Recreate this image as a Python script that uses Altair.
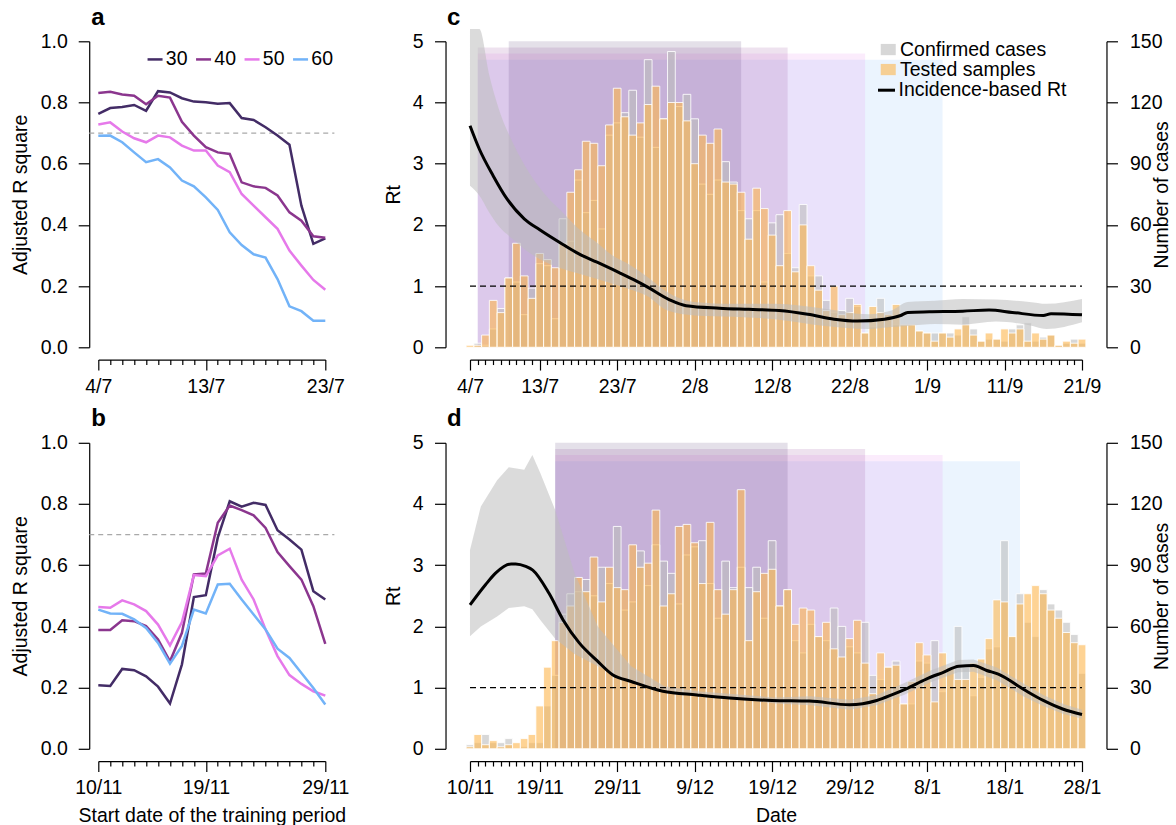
import altair as alt
import pandas as pd

FONT = "Liberation Sans"
FS = 19.5

# ---------------- panels a / b : adjusted R square ----------------
windows = ["30", "40", "50", "60"]
window_colors = ["#432C66", "#8B368E", "#E679EA", "#72B3F8"]

a_r2_30 = [0.763, 0.782, 0.785, 0.792, 0.773, 0.837, 0.833, 0.814, 0.803, 0.801,
           0.796, 0.798, 0.749, 0.743, 0.719, 0.692, 0.662, 0.463, 0.338, 0.356]
a_r2_40 = [0.831, 0.835, 0.826, 0.822, 0.794, 0.822, 0.816, 0.737, 0.692, 0.654,
           0.637, 0.632, 0.539, 0.526, 0.521, 0.496, 0.441, 0.414, 0.363, 0.358]
a_r2_50 = [0.728, 0.735, 0.705, 0.683, 0.670, 0.692, 0.686, 0.659, 0.643, 0.643,
           0.594, 0.572, 0.501, 0.463, 0.425, 0.387, 0.316, 0.267, 0.220, 0.188]
a_r2_60 = [0.691, 0.692, 0.670, 0.637, 0.605, 0.615, 0.588, 0.545, 0.526, 0.490,
           0.449, 0.376, 0.334, 0.304, 0.293, 0.223, 0.134, 0.118, 0.087, 0.087]

b_r2_30 = [0.208, 0.205, 0.261, 0.257, 0.237, 0.203, 0.148, 0.276, 0.496, 0.502,
           0.690, 0.809, 0.791, 0.804, 0.797, 0.714, 0.684, 0.651, 0.515, 0.488]
b_r2_40 = [0.388, 0.388, 0.420, 0.417, 0.401, 0.357, 0.286, 0.379, 0.570, 0.573,
           0.739, 0.795, 0.780, 0.763, 0.722, 0.643, 0.597, 0.553, 0.466, 0.343]
b_r2_50 = [0.463, 0.461, 0.485, 0.472, 0.450, 0.406, 0.338, 0.414, 0.568, 0.564,
           0.632, 0.654, 0.553, 0.488, 0.390, 0.303, 0.241, 0.212, 0.188, 0.174]
b_r2_60 = [0.455, 0.442, 0.441, 0.423, 0.395, 0.346, 0.278, 0.336, 0.455, 0.442,
           0.537, 0.539, 0.488, 0.439, 0.390, 0.327, 0.297, 0.248, 0.199, 0.145]

r2_threshold = 0.7
r2_ticks = [0.0, 0.2, 0.4, 0.6, 0.8, 1.0]
ab_tick_days = [0, 9, 19]
a_tick_labels = ["4/7", "13/7", "23/7"]
b_tick_labels = ["10/11", "19/11", "29/11"]

# ---------------- panels c / d : cases and Rt ----------------
cd_tick_days = [0, 9, 19, 29, 39, 49, 59, 69, 79]
c_tick_labels = ["4/7", "13/7", "23/7", "2/8", "12/8", "22/8", "1/9", "11/9", "21/9"]
d_tick_labels = ["10/11", "19/11", "29/11", "9/12", "19/12", "29/12", "8/1", "18/1", "28/1"]

series_names = ["Confirmed cases", "Tested samples"]
series_colors = ["#BDBDBD", "#FDB64C"]
rt_label = "Incidence-based Rt"

c_confirmed = [0, 2, 1, 9, 19, 34, 32, 16, 29, 41,
               40, 14, 63, 52, 82, 66, 72, 58, 104, 110,
               115, 126, 103, 141, 98, 112, 145, 118, 124, 112,
               80, 75, 82, 91, 81, 67, 63, 67, 32, 61,
               65, 46, 39, 70, 35, 35, 23, 17, 18, 24,
               20, 7, 10, 24, 16, 11, 11, 11, 8, 7,
               7, 7, 7, 6, 15, 9, 3, 4, 4, 3,
               9, 11, 12, 3, 5, 6, 1, 2, 4, 2]
c_tested = [1, 1, 6, 23, 17, 34, 51, 35, 24, 46,
            43, 39, 51, 76, 87, 101, 100, 89, 109, 127,
            113, 104, 110, 119, 128, 112, 120, 120, 111, 90,
            104, 100, 107, 81, 80, 76, 53, 78, 68, 55,
            40, 67, 37, 60, 40, 28, 18, 30, 16, 17,
            21, 7, 20, 17, 16, 21, 11, 11, 8, 7,
            3, 7, 5, 9, 11, 6, 3, 7, 4, 9,
            7, 9, 3, 7, 4, 6, 1, 3, 2, 4]

d_confirmed = [2, 3, 7, 3, 3, 5, 0, 1, 3, 3,
               21, 36, 66, 76, 77, 83, 75, 89, 81, 109,
               68, 72, 97, 80, 100, 92, 86, 71, 95, 99,
               102, 81, 64, 92, 79, 89, 79, 89, 64, 102,
               70, 78, 53, 47, 61, 55, 53, 69, 60, 50,
               47, 62, 36, 34, 40, 43, 22, 22, 43, 42,
               53, 28, 40, 60, 40, 26, 35, 49, 50, 102,
               55, 76, 62, 55, 78, 71, 68, 62, 56, 37]
d_tested = [1, 7, 2, 4, 1, 2, 3, 5, 7, 21,
            40, 53, 62, 70, 84, 77, 94, 72, 89, 79,
            78, 100, 89, 91, 117, 70, 76, 109, 110, 101,
            81, 111, 78, 66, 78, 127, 53, 77, 86, 88,
            70, 78, 61, 69, 68, 55, 62, 49, 45, 54,
            63, 42, 27, 47, 40, 41, 22, 33, 52, 46,
            23, 47, 40, 34, 34, 42, 44, 54, 73, 72,
            55, 71, 76, 80, 76, 68, 64, 57, 52, 51]

c_rt_day = [0, 1.2, 3, 4.8, 7, 9, 12, 14, 16.4, 19.25, 21.5, 22.7, 25.7, 27.9, 32.2,
            36, 39.9, 43.6, 47, 50, 53.5, 55.6, 56.5, 59.3, 63.6, 67, 70, 74, 75, 79]
c_rt = [3.62, 3.24, 2.8, 2.42, 2.1, 1.92, 1.68, 1.53, 1.39, 1.22, 1.08, 1.0, 0.78, 0.68, 0.64,
        0.62, 0.6, 0.54, 0.46, 0.43, 0.46, 0.52, 0.57, 0.58, 0.59, 0.61, 0.57, 0.52, 0.55, 0.53]
c_rib_day = [0, 1.2, 2.5, 3.7, 5.5, 7.6, 9.8, 12, 14.1, 16.3, 18.4, 20.6, 22.7, 25.5,
             29, 34, 39.3, 45.8, 51.4, 54.4, 56.5, 60, 63.6, 67.9, 72.2, 74.4, 79]
c_rib_up = [5.2, 5.2, 4.44, 3.9, 3.35, 2.86, 2.48, 2.2, 1.93, 1.72, 1.5, 1.35, 1.17, 0.9,
            0.74, 0.71, 0.71, 0.63, 0.54, 0.6, 0.74, 0.76, 0.79, 0.78, 0.74, 0.71, 0.79]
c_rib_lo = [2.64, 2.48, 2.2, 1.98, 1.77, 1.55, 1.39, 1.28, 1.2, 1.12, 1.04, 0.95, 0.85, 0.6,
            0.52, 0.5, 0.46, 0.35, 0.3, 0.33, 0.35, 0.38, 0.37, 0.42, 0.36, 0.3, 0.41]

d_rt_day = [0, 2, 3.3, 5.3, 5.9, 7.2, 8.1, 10.2, 12, 14.1, 16.4, 18.4, 20.8, 24.9, 29.3, 33.5,
            39, 43.8, 49, 52.5, 54.6, 56.3, 58.9, 61.1, 63.1, 65, 66.7, 68.2, 71.6, 74, 76.5, 79]
d_rt = [2.35, 2.68, 2.87, 3.02, 3.02, 2.98, 2.92, 2.54, 2.11, 1.73, 1.44, 1.21, 1.1, 0.94, 0.88, 0.83,
        0.79, 0.78, 0.72, 0.79, 0.89, 0.98, 1.14, 1.25, 1.35, 1.36, 1.28, 1.22, 0.96, 0.79, 0.65, 0.56]
d_rib_day = [0, 1.4, 3.5, 5, 7, 8.05, 9.1, 11, 13.5, 16.5, 20.8, 25.1, 29.4, 39.3, 44, 49,
             52.5, 56, 59.3, 63, 65, 68, 71.4, 74, 76.6, 79]
d_rib_up = [3.25, 3.96, 4.39, 4.6, 4.56, 4.8, 4.5, 3.9, 2.87, 2.0, 1.35, 1.02, 0.94, 0.84, 0.86, 0.8,
            0.88, 1.07, 1.27, 1.45, 1.46, 1.33, 1.07, 0.88, 0.73, 0.64]
d_rib_lo = [1.84, 2.0, 2.16, 2.3, 2.33, 2.28, 2.1, 1.8, 1.55, 1.35, 1.08, 0.96, 0.88, 0.74, 0.71, 0.64,
            0.71, 0.88, 1.08, 1.25, 1.26, 1.12, 0.86, 0.7, 0.57, 0.49]

train_len = [30, 40, 50, 60]
train_top = [5.0, 4.9, 4.8, 4.7]
c_train_start = [5, 1, 1, 1]
d_train_start = [11, 11, 11, 11]
rt_threshold = 1
rt_ticks = [0, 1, 2, 3, 4, 5]
case_ticks = [0, 30, 60, 90, 120, 150]

# ---------------- helpers ----------------
SMALL_W, BIG_W, PH = 227, 612, 306
COL_GAP, ROW_GAP = 144.7, 95.5


def label_expr(days, labels):
    expr = "''"
    for d, l in reversed(list(zip(days, labels))):
        expr = f"datum.value == {d} ? '{l}' : ({expr})"
    return expr


def date_axis(n, tick_days, tick_labels, title, offset):
    test = f"indexof({list(tick_days)}, datum.value) >= 0"
    return alt.Axis(
        values=list(range(n + 1)),
        labelExpr=label_expr(tick_days, tick_labels),
        tickSize={"condition": {"test": test, "value": 10.5}, "value": 5},
        offset=offset, labelPadding=7, titlePadding=9,
        labelFlush=False, labelOverlap=False, title=title,
    )


def letter_title(letter, dx, offset):
    return alt.TitleParams(letter, anchor="start", frame="group", dx=dx, offset=offset,
                           fontSize=24, fontWeight="bold", font=FONT, baseline="alphabetic",
                           color="black")


def r2_panel(series, tick_labels, letter, x_title, show_legend):
    rows = []
    for w, vals in zip(windows, series):
        for i, v in enumerate(vals):
            rows.append({"day": i, "r2": v, "window": w})
    df = pd.DataFrame(rows)
    n = len(series[0]) - 1
    pad = 0.04 * n
    xs = alt.Scale(domain=[0, n], nice=False, zero=False)
    ys = alt.Scale(domain=[0, 1], nice=False, zero=False)
    x_axis = date_axis(n, ab_tick_days, tick_labels, x_title, 0.04 * PH)
    y_axis = alt.Axis(values=r2_ticks, format=".1f", title="Adjusted R square",
                      offset=0.04 * SMALL_W, tickSize=11, labelPadding=11, titlePadding=10)
    ref = pd.DataFrame({"x0": [-pad], "x1": [n + pad], "y": [r2_threshold]})
    dash = alt.Chart(ref).mark_rule(color="#A9A9A9", strokeDash=[5, 4], strokeWidth=1.3).encode(
        x=alt.X("x0:Q", scale=xs, axis=x_axis), x2="x1:Q",
        y=alt.Y("y:Q", scale=ys, axis=y_axis))
    if show_legend:
        leg = alt.Legend(orient="none", legendX=47, legendY=8, direction="horizontal", title=None,
                         symbolType="stroke", symbolSize=225, symbolStrokeWidth=2.5,
                         labelOffset=1, columnPadding=2.5, labelFontSize=FS)
    else:
        leg = None
    lines = alt.Chart(df).mark_line(strokeWidth=2.5).encode(
        x=alt.X("day:Q", scale=xs, axis=x_axis),
        y=alt.Y("r2:Q", scale=ys, axis=y_axis),
        color=alt.Color("window:N", scale=alt.Scale(domain=windows, range=window_colors), legend=leg),
        order=alt.Order("day:Q"),
    )
    return alt.layer(dash, lines).properties(
        width=SMALL_W, height=PH, title=letter_title(letter, -7, -17.4))


def rt_panel(conf, tested, starts, rt_x, rt_y, rib_x, rib_up, rib_lo, rib_interp,
             tick_labels, letter, letter_offset, x_title, show_legend):
    n = len(conf) - 1
    xs = alt.Scale(domain=[0, n], nice=False, zero=False)
    ys = alt.Scale(domain=[0, 5], nice=False, zero=False)
    cs = alt.Scale(domain=[0, 150], nice=False, zero=False)
    x_axis = date_axis(n, cd_tick_days, tick_labels, x_title, 0.04 * PH)
    left_axis = alt.Axis(orient="left", values=rt_ticks, format="d", title="Rt",
                         offset=0.04 * BIG_W, tickSize=11, labelPadding=11.5, titlePadding=9)
    right_axis = alt.Axis(orient="right", values=case_ticks, format="d", title="Number of cases",
                          offset=0.04 * BIG_W, tickSize=11, labelPadding=12,
                          titleAngle=270, titleBaseline="bottom", titlePadding=9)

    rect_df = pd.DataFrame({
        "window": windows, "start": starts,
        "end": [s + l for s, l in zip(starts, train_len)], "top": train_top,
    }).iloc[::-1]
    rects = alt.Chart(rect_df).mark_rect(opacity=0.145).encode(
        x=alt.X("start:Q", scale=xs, axis=x_axis), x2="end:Q",
        y=alt.Y("top:Q", scale=ys, axis=left_axis), y2=alt.datum(0),
        color=alt.Color("window:N", scale=alt.Scale(domain=windows, range=window_colors), legend=None),
    )

    bar_df = pd.DataFrame({
        "day": list(range(n + 1)) * 2,
        "cases": conf + tested,
        "series": [series_names[0]] * (n + 1) + [series_names[1]] * (n + 1),
    })
    # legends of concatenated views are placed from the first panel's plot origin
    lx = SMALL_W + COL_GAP + 408.5
    if show_legend:
        fill_leg = alt.Legend(orient="none", legendX=lx, legendY=-1.5, title=None,
                              symbolType="M-1,-0.75H1V0.75H-1Z", symbolSize=225,
                              symbolOpacity=0.6, symbolStrokeWidth=0, labelOffset=2,
                              rowPadding=-3, labelLimit=400, labelFontSize=FS)
        stroke_leg = alt.Legend(orient="none", legendX=lx - 2, legendY=38.9, title=None,
                                symbolType="stroke", symbolSize=289, symbolStrokeWidth=3,
                                labelOffset=2, labelLimit=400, labelFontSize=FS)
    else:
        fill_leg = None
        stroke_leg = None
    bars = alt.Chart(bar_df).transform_calculate(
        x0="datum.day - 0.5", x1="datum.day + 0.5"
    ).mark_bar(fillOpacity=0.6, stroke="white", strokeWidth=1, strokeOpacity=0.85).encode(
        x=alt.X("x0:Q", scale=xs, axis=x_axis), x2="x1:Q",
        y=alt.Y("cases:Q", scale=cs, axis=right_axis, stack=None), y2=alt.datum(0),
        fill=alt.Fill("series:N", scale=alt.Scale(domain=series_names, range=series_colors),
                      legend=fill_leg),
    )

    rib_df = pd.DataFrame({"day": rib_x, "up": rib_up, "lo": rib_lo})
    ribbon = alt.Chart(rib_df).mark_area(color="#BEBEBE", opacity=0.55, interpolate=rib_interp).encode(
        x=alt.X("day:Q", scale=xs, axis=x_axis),
        y=alt.Y("up:Q", scale=ys, axis=None), y2="lo:Q",
    )

    dash_df = pd.DataFrame({"x0": [0], "x1": [n], "y": [rt_threshold]})
    dash = alt.Chart(dash_df).mark_rule(color="black", strokeDash=[6, 4], strokeWidth=1.2).encode(
        x=alt.X("x0:Q", scale=xs, axis=x_axis), x2="x1:Q",
        y=alt.Y("y:Q", scale=ys, axis=None),
    )

    rt_df = pd.DataFrame({"day": rt_x, "rt": rt_y, "lab": rt_label})
    line = alt.Chart(rt_df).mark_line(strokeWidth=3, interpolate="monotone").encode(
        x=alt.X("day:Q", scale=xs, axis=x_axis),
        y=alt.Y("rt:Q", scale=ys, axis=None),
        stroke=alt.Stroke("lab:N", scale=alt.Scale(domain=[rt_label], range=["black"]),
                          legend=stroke_leg),
    )

    return alt.layer(rects, bars, ribbon, dash, line).resolve_scale(y="independent").properties(
        width=BIG_W, height=PH, title=letter_title(letter, -23, letter_offset))


panel_a = r2_panel([a_r2_30, a_r2_40, a_r2_50, a_r2_60], a_tick_labels, "a", None, True)
panel_b = r2_panel([b_r2_30, b_r2_40, b_r2_50, b_r2_60], b_tick_labels, "b",
                   "Start date of the training period", False)
panel_c = rt_panel(c_confirmed, c_tested, c_train_start, c_rt_day, c_rt, c_rib_day, c_rib_up,
                   c_rib_lo, "monotone", c_tick_labels, "c", -19.6, None, True)
panel_d = rt_panel(d_confirmed, d_tested, d_train_start, d_rt_day, d_rt, d_rib_day, d_rib_up,
                   d_rib_lo, "linear", d_tick_labels, "d", -17.4, "Date", False)

chart = alt.concat(
    panel_a, panel_c, panel_b, panel_d,
    columns=2, spacing={"row": ROW_GAP, "column": COL_GAP}, bounds="flush",
    padding={"left": 9.3, "top": 5.3, "right": 4, "bottom": 2},
    background="white",
).configure_view(stroke=None).configure_axis(
    labelFont=FONT, titleFont=FONT, labelFontSize=FS, titleFontSize=FS,
    titleFontWeight="normal", labelColor="black", titleColor="black",
    domainColor="black", tickColor="black", domainWidth=1.2, tickWidth=1.2, grid=False,
).configure_legend(
    labelFont=FONT, labelFontSize=FS, labelColor="black", padding=0,
).configure_title(font=FONT, color="black")

chart.save("out.html", embed_options={"renderer": "svg", "actions": False})
